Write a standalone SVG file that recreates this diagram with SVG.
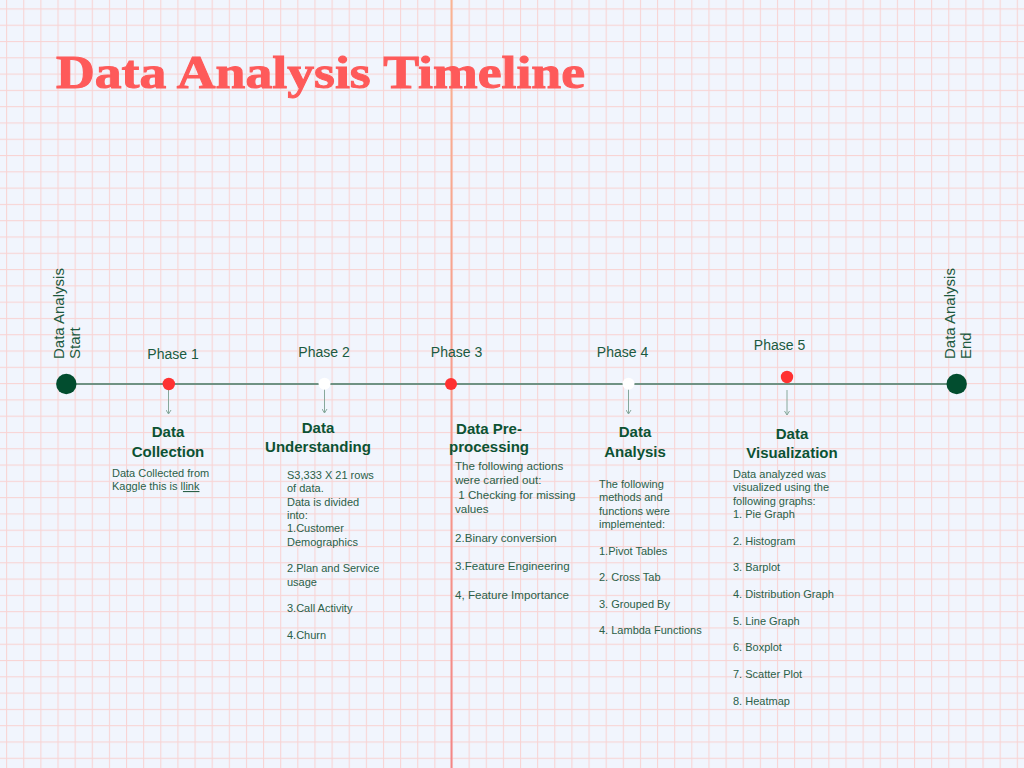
<svg xmlns="http://www.w3.org/2000/svg" width="1024" height="768" viewBox="0 0 1024 768">
<defs>
<pattern id="grid" patternUnits="userSpaceOnUse" x="6.1" y="8.4" width="17.13" height="16.29">
<rect x="0" y="0" width="1.1" height="16.29" fill="#f8d4d4"/>
<rect x="0" y="0" width="17.13" height="1.1" fill="#f8d4d4"/>
</pattern>
<linearGradient id="vline" x1="0" y1="0" x2="0" y2="1">
<stop offset="0" stop-color="#f9b493"/>
<stop offset="1" stop-color="#f38585"/>
</linearGradient>
<marker id="arr" viewBox="0 0 6 6" refX="5" refY="3" markerWidth="6" markerHeight="6" markerUnits="userSpaceOnUse" orient="auto">
<path d="M1,0.5 L5,3 L1,5.5" fill="none" stroke="#86a89b" stroke-width="1"/>
</marker>
<style>
.title{font-family:"Liberation Serif",serif;font-weight:bold;font-size:47px;fill:#fe5a5a;stroke:#fe5a5a;stroke-width:1}
.phase{font-family:"Liberation Sans",Arial,sans-serif;font-size:14px;fill:#1b5a40}
.side{font-family:"Liberation Sans",Arial,sans-serif;font-size:15px;fill:#1b5a40}
.head{font-family:"Liberation Sans",Arial,sans-serif;font-weight:bold;font-size:15px;fill:#0c5233;text-anchor:middle}
.body{font-family:"Liberation Sans",Arial,sans-serif;font-size:11px;fill:#2b6048}
.body3{font-family:"Liberation Sans",Arial,sans-serif;font-size:11.6px;fill:#2b6048}
.tl{stroke:#6f9283;stroke-width:2;fill:none}
.ar{stroke:#86a89b;stroke-width:1;fill:none}
.big{fill:#024d2f}
.red{fill:#ff3131}
.white{fill:#ffffff}
</style>
</defs>
<rect width="1024" height="768" fill="#f1f5fd"/>
<rect width="1024" height="768" fill="url(#grid)"/>
<rect x="450.5" y="0" width="2" height="768" fill="url(#vline)"/>

<text class="title" x="56" y="88" textLength="529" lengthAdjust="spacingAndGlyphs">Data Analysis Timeline</text>

<g id="connectors">
<line class="tl" x1="66" y1="384" x2="957" y2="384"/>
<line class="ar" x1="168.5" y1="390" x2="168.5" y2="414" marker-end="url(#arr)"/>
<line class="ar" x1="324.5" y1="389" x2="324.5" y2="413" marker-end="url(#arr)"/>
<line class="ar" x1="628.5" y1="389" x2="628.5" y2="414" marker-end="url(#arr)"/>
<line class="ar" x1="787" y1="390" x2="787" y2="415" marker-end="url(#arr)"/>
</g>

<g id="start">
<circle class="big" cx="66.3" cy="384" r="10.2"/>
<text class="side" transform="translate(64,359) rotate(-90)">Data Analysis</text>
<text class="side" transform="translate(80,359) rotate(-90)">Start</text>
</g>

<g id="end">
<circle class="big" cx="956.7" cy="384" r="10.2"/>
<text class="side" transform="translate(955,359) rotate(-90)">Data Analysis</text>
<text class="side" transform="translate(971,359) rotate(-90)">End</text>
</g>

<g id="phase1">
<circle class="red" cx="168.8" cy="384" r="6.2"/>
<text class="phase" x="173" y="359" text-anchor="middle">Phase 1</text>
<text class="head" x="168" y="437">Data</text>
<text class="head" x="168" y="457">Collection</text>
<text class="body" x="112" y="477">Data Collected from</text>
<text class="body" x="112" y="490">Kaggle this is l<tspan text-decoration="underline">link</tspan></text>
</g>

<g id="phase2">
<circle class="white" cx="324.5" cy="383.7" r="6"/>
<text class="phase" x="324" y="357" text-anchor="middle">Phase 2</text>
<text class="head" x="318" y="433">Data</text>
<text class="head" x="318" y="452">Understanding</text>
<text class="body" x="287" y="479">S3,333 X 21 rows</text>
<text class="body" x="287" y="492.3">of data.</text>
<text class="body" x="287" y="505.7">Data is divided</text>
<text class="body" x="287" y="519">into:</text>
<text class="body" x="287" y="532.3">1.Customer</text>
<text class="body" x="287" y="545.7">Demographics</text>
<text class="body" x="287" y="572.3">2.Plan and Service</text>
<text class="body" x="287" y="585.7">usage</text>
<text class="body" x="287" y="612.3">3.Call Activity</text>
<text class="body" x="287" y="639">4.Churn</text>
</g>

<g id="phase3">
<circle class="red" cx="451" cy="384" r="6"/>
<text class="phase" x="456.5" y="357" text-anchor="middle">Phase 3</text>
<text class="head" x="489" y="434">Data Pre-</text>
<text class="head" x="489" y="452">processing</text>
<text class="body3" x="455" y="470">The following actions</text>
<text class="body3" x="455" y="484.3">were carried out:</text>
<text class="body3" x="455" y="498.6" xml:space="preserve"> 1 Checking for missing</text>
<text class="body3" x="455" y="513">values</text>
<text class="body3" x="455" y="541.6">2.Binary conversion</text>
<text class="body3" x="455" y="570">3.Feature Engineering</text>
<text class="body3" x="455" y="598.5">4, Feature Importance</text>
</g>

<g id="phase4">
<circle class="white" cx="628.5" cy="383.7" r="6"/>
<text class="phase" x="622.5" y="357" text-anchor="middle">Phase 4</text>
<text class="head" x="635" y="437">Data</text>
<text class="head" x="635" y="457">Analysis</text>
<text class="body" x="599" y="488">The following</text>
<text class="body" x="599" y="501.3">methods and</text>
<text class="body" x="599" y="514.7">functions were</text>
<text class="body" x="599" y="528">implemented:</text>
<text class="body" x="599" y="554.7">1.Pivot Tables</text>
<text class="body" x="599" y="581.3">2. Cross Tab</text>
<text class="body" x="599" y="607.7">3. Grouped By</text>
<text class="body" x="599" y="634.3">4. Lambda Functions</text>
</g>

<g id="phase5">
<circle class="red" cx="787" cy="377" r="6.2"/>
<text class="phase" x="779.5" y="350" text-anchor="middle">Phase 5</text>
<text class="head" x="792" y="439">Data</text>
<text class="head" x="792" y="458">Visualization</text>
<text class="body" x="733" y="478">Data analyzed was</text>
<text class="body" x="733" y="491.3">visualized using the</text>
<text class="body" x="733" y="504.6">following graphs:</text>
<text class="body" x="733" y="518">1. Pie Graph</text>
<text class="body" x="733" y="544.6">2. Histogram</text>
<text class="body" x="733" y="571.3">3. Barplot</text>
<text class="body" x="733" y="598">4. Distribution Graph</text>
<text class="body" x="733" y="624.6">5. Line Graph</text>
<text class="body" x="733" y="651.3">6. Boxplot</text>
<text class="body" x="733" y="678">7. Scatter Plot</text>
<text class="body" x="733" y="704.6">8. Heatmap</text>
</g>
</svg>
